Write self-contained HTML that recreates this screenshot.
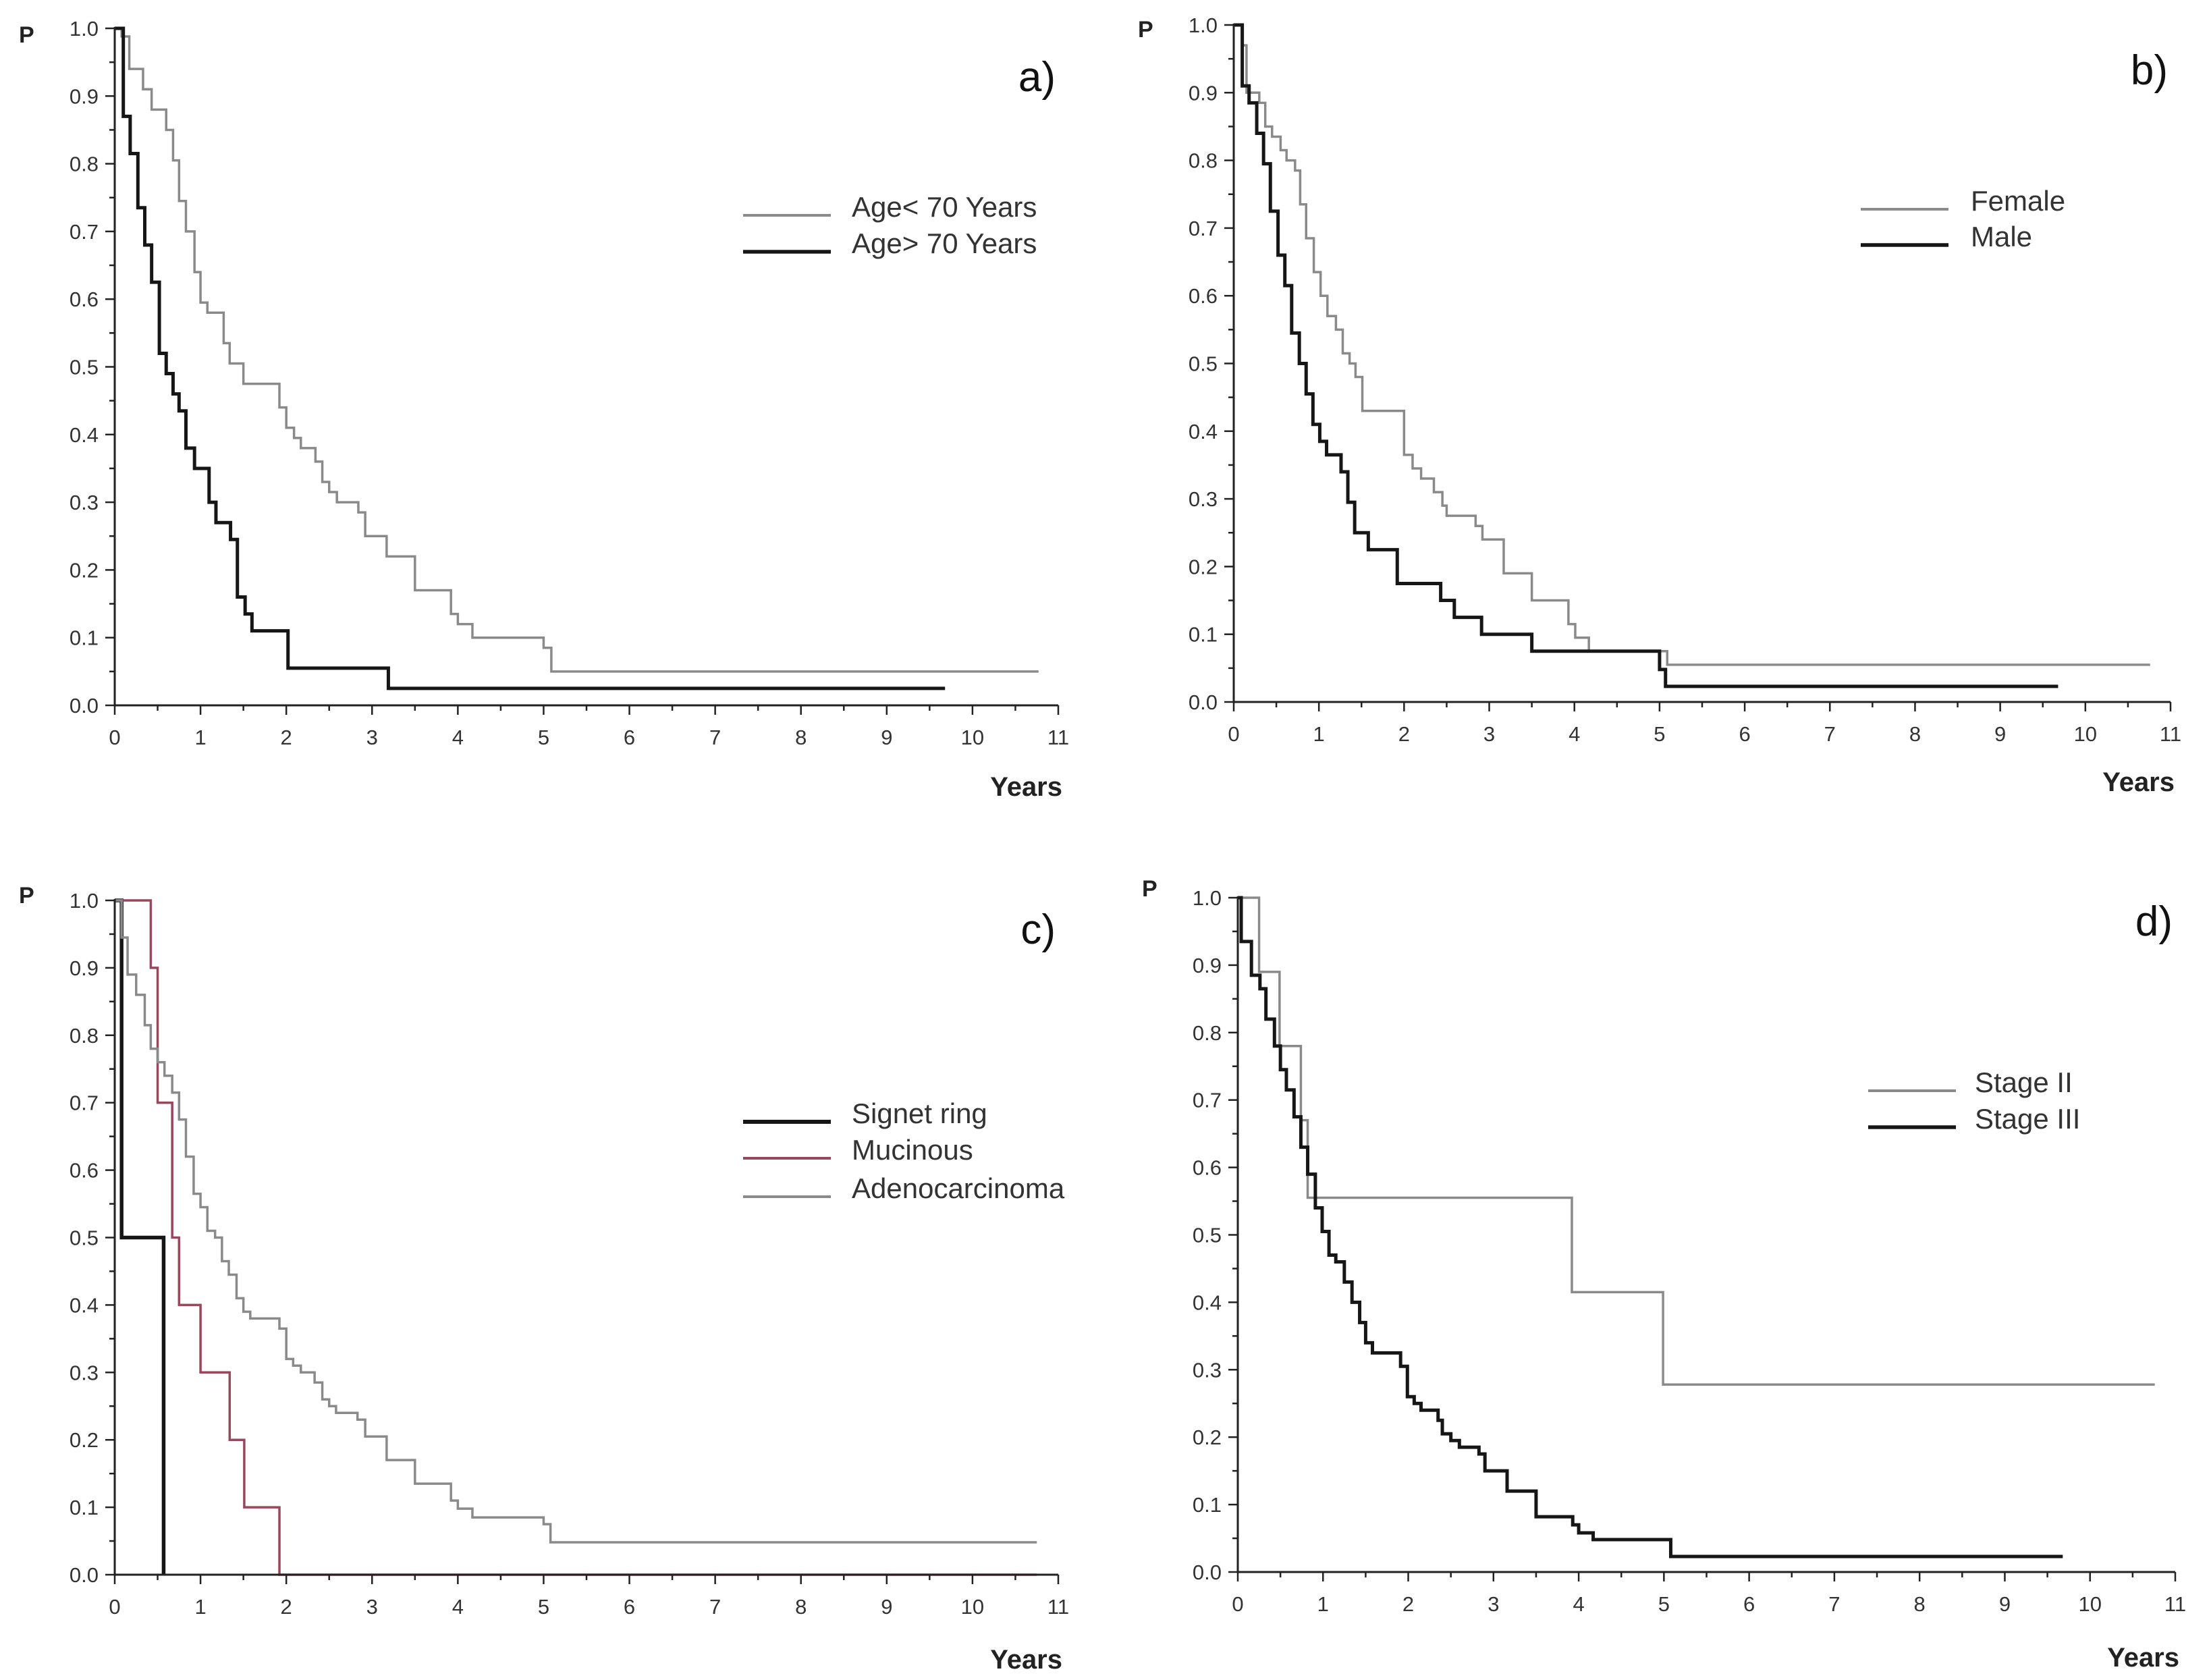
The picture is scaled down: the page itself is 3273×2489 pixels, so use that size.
<!DOCTYPE html>
<html><head><meta charset="utf-8"><style>
html,body{margin:0;padding:0;background:#fff;}
svg{display:block;font-family:"Liberation Sans",sans-serif;}
</style></head><body>
<svg id="chart" width="3273" height="2489" viewBox="0 0 3273 2489" xmlns="http://www.w3.org/2000/svg"></svg>
<script>
// ---- data (time in years, survival probability) ----
const aYoungT = [0,0.08,0.17,0.33,0.43,0.6,0.68,0.75,0.83,0.93,1.0,1.08,1.27,1.34,1.5,1.92,2.0,2.09,2.17,2.34,2.42,2.5,2.59,2.84,2.92,3.17,3.5,3.92,4.0,4.17,5.0,5.09,10.77];
const aYoungP = [1,0.988,0.94,0.91,0.88,0.85,0.805,0.745,0.70,0.64,0.595,0.58,0.535,0.505,0.475,0.44,0.41,0.395,0.38,0.36,0.33,0.315,0.30,0.285,0.25,0.22,0.17,0.135,0.12,0.10,0.085,0.05,0.05];
const aOldT = [0,0.1,0.18,0.27,0.35,0.43,0.52,0.6,0.68,0.75,0.83,0.93,1.1,1.18,1.35,1.43,1.52,1.6,2.02,3.19,9.68];
const aOldP = [1,0.87,0.815,0.735,0.68,0.625,0.52,0.49,0.46,0.435,0.38,0.35,0.30,0.27,0.245,0.16,0.135,0.11,0.055,0.025,0.025];

const bFemT = [0,0.1,0.15,0.3,0.37,0.45,0.55,0.62,0.72,0.78,0.85,0.94,1.02,1.1,1.2,1.28,1.36,1.43,1.51,2.0,2.1,2.2,2.35,2.45,2.5,2.84,2.92,3.17,3.5,3.93,4.01,4.17,5.09,10.76];
const bFemP = [1,0.97,0.90,0.885,0.85,0.835,0.815,0.80,0.785,0.735,0.685,0.635,0.60,0.57,0.55,0.515,0.50,0.48,0.43,0.365,0.345,0.33,0.31,0.29,0.275,0.26,0.24,0.19,0.15,0.115,0.095,0.075,0.055,0.055];
const bMaleT = [0,0.1,0.18,0.27,0.35,0.43,0.52,0.6,0.68,0.77,0.85,0.93,1.01,1.09,1.26,1.34,1.42,1.58,1.92,2.43,2.59,2.91,3.5,5.0,5.07,9.68];
const bMaleP = [1,0.91,0.885,0.84,0.795,0.725,0.66,0.615,0.545,0.50,0.455,0.41,0.385,0.365,0.34,0.295,0.25,0.225,0.175,0.15,0.125,0.10,0.075,0.048,0.023,0.023];

const cSigT = [0,0.08,0.57];
const cSigP = [1,0.5,0];
const cMucT = [0,0.42,0.5,0.67,0.75,1.0,1.34,1.51,1.92,10.75];
const cMucP = [1,0.9,0.7,0.5,0.4,0.3,0.2,0.1,0,0];
const cAdeT = [0,0.08,0.15,0.25,0.35,0.42,0.5,0.58,0.67,0.75,0.83,0.92,1.0,1.08,1.17,1.25,1.33,1.42,1.5,1.58,1.92,2.0,2.08,2.17,2.33,2.42,2.5,2.58,2.83,2.92,3.17,3.5,3.92,4.0,4.17,5.0,5.08,10.75];
const cAdeP = [1,0.945,0.89,0.86,0.815,0.78,0.76,0.74,0.715,0.675,0.62,0.565,0.545,0.51,0.50,0.465,0.445,0.41,0.39,0.38,0.365,0.32,0.31,0.30,0.285,0.26,0.25,0.24,0.23,0.205,0.17,0.135,0.11,0.098,0.085,0.075,0.048,0.048];

const dS2T = [0,0.25,0.49,0.74,0.82,3.92,4.99,10.76];
const dS2P = [1,0.89,0.78,0.67,0.555,0.415,0.278,0.278];
const dS3T = [0,0.04,0.16,0.26,0.33,0.43,0.5,0.57,0.66,0.74,0.82,0.91,0.99,1.07,1.15,1.25,1.34,1.43,1.5,1.58,1.91,1.99,2.07,2.15,2.35,2.4,2.5,2.6,2.83,2.9,3.16,3.5,3.93,4.0,4.17,5.08,9.68];
const dS3P = [1,0.935,0.885,0.865,0.82,0.78,0.745,0.715,0.675,0.63,0.59,0.54,0.505,0.47,0.46,0.43,0.40,0.37,0.34,0.325,0.305,0.26,0.25,0.24,0.225,0.205,0.195,0.185,0.175,0.15,0.12,0.082,0.07,0.058,0.048,0.023,0.023];

const xTicks = [0,1,2,3,4,5,6,7,8,9,10,11];
const yTicks = [0,0.1,0.2,0.3,0.4,0.5,0.6,0.7,0.8,0.9,1.0];
const yTickLabels = ["0.0","0.1","0.2","0.3","0.4","0.5","0.6","0.7","0.8","0.9","1.0"];

const GRAY = "#8a8a8a", BLACK = "#161616", RED = "#97485a";
const panels = [
  {id:"a", x0:170, x1:1568, y0:1045, y1:42, pY:50, letterY:113, yearsY:1165,
   legX:1101, legTextX:1262, legY:[319,373],
   series:[{n:"Age< 70 Years",t:aYoungT,p:aYoungP,c:GRAY,w:3.5},{n:"Age> 70 Years",t:aOldT,p:aOldP,c:BLACK,w:5}]},
  {id:"b", x0:1828, x1:3216, y0:1040, y1:37, pY:42, letterY:103, yearsY:1158,
   legX:2757, legTextX:2920, legY:[310,363],
   series:[{n:"Female",t:bFemT,p:bFemP,c:GRAY,w:3.5},{n:"Male",t:bMaleT,p:bMaleP,c:BLACK,w:5}]},
  {id:"c", x0:170, x1:1568, y0:2333, y1:1334, pY:1325, letterY:1376, yearsY:2458,
   legX:1101, legTextX:1262, legY:[1662,1716,1773],
   series:[{n:"Signet ring",t:cSigT,p:cSigP,c:BLACK,w:5.5},{n:"Mucinous",t:cMucT,p:cMucP,c:RED,w:3.5},{n:"Adenocarcinoma",t:cAdeT,p:cAdeP,c:GRAY,w:3.5}]},
  {id:"d", x0:1834, x1:3223, y0:2329, y1:1330, pY:1315, letterY:1364, yearsY:2455,
   legX:2768, legTextX:2926, legY:[1616,1670],
   series:[{n:"Stage II",t:dS2T,p:dS2P,c:GRAY,w:3.5},{n:"Stage III",t:dS3T,p:dS3P,c:BLACK,w:5}]}
];

const NS = "http://www.w3.org/2000/svg";
const svg = document.getElementById("chart");
function mk(tag, attrs, parent){
  const e = document.createElementNS(NS, tag);
  for (const k in attrs) e.setAttribute(k, attrs[k]);
  (parent||svg).appendChild(e);
  return e;
}

panels.forEach(pn => {
  const g = mk("g", {});
  
  
  const sx = t => pn.x0 + t * (pn.x1 - pn.x0) / 11;
  const sy = p => pn.y0 - p * (pn.y0 - pn.y1);

  pn.series.forEach((s, si) => {
    let d = "M" + sx(s.t[0]) + "," + sy(s.p[0]);
    for (let i = 1; i < s.t.length; i++) {
      d += " H" + sx(s.t[i]) + " V" + sy(s.p[i]);
    }
    const path = mk("path", {d:d, fill:"none", stroke:s.c, "stroke-width":s.w, "stroke-linejoin":"miter"}, g);
    
    
    const ly = pn.legY[si];
    const ll = mk("line", {x1:pn.legX, x2:pn.legX+130, y1:ly, y2:ly, stroke:s.c, "stroke-width":s.w+0.5}, g);
    
    
    const lt = mk("text", {x:pn.legTextX, y:ly+2, "font-size":42, fill:"#333"}, g);
    lt.textContent = s.n;
    
    
  });

  const ax = mk("path", {d:"M"+pn.x0+","+(pn.y1-2)+" V"+pn.y0+" H"+pn.x1, fill:"none", stroke:"#222", "stroke-width":3}, g);
  
  

  for (let i = 0; i <= 20; i++) {
    const y = sy(i*0.05);
    const len = (i%2===0) ? 14 : 8;
    const tk = mk("line", {x1:pn.x0-len, x2:pn.x0, y1:y, y2:y, stroke:"#222", "stroke-width":2.5}, g);
    
    
  }
  yTicks.forEach((v, i) => {
    const t = mk("text", {x:pn.x0-24, y:sy(v)+11, "font-size":31, fill:"#333", "text-anchor":"end"}, g);
    t.textContent = yTickLabels[i];
    
    
  });
  for (let i = 0; i <= 22; i++) {
    const x = sx(i*0.5);
    const len = (i%2===0) ? 14 : 8;
    const tk = mk("line", {x1:x, x2:x, y1:pn.y0, y2:pn.y0+len, stroke:"#222", "stroke-width":2.5}, g);
    
    
  }
  xTicks.forEach(v => {
    const t = mk("text", {x:sx(v), y:pn.y0+58, "font-size":31, fill:"#333", "text-anchor":"middle"}, g);
    t.textContent = String(v);
    
    
  });

  const P = mk("text", {x:pn.x0-142, y:pn.pY+13, "font-size":34, "font-weight":"bold", fill:"#222"}, g);
  P.textContent = "P";
  
  

  const Y = mk("text", {x:pn.x1+6, y:pn.yearsY+14, "font-size":40, "font-weight":"bold", fill:"#222", "text-anchor":"end"}, g);
  Y.textContent = "Years";
  
  

  const L = mk("text", {x:pn.x1-4, y:pn.letterY+22, "font-size":62, fill:"#111", "text-anchor":"end"}, g);
  L.textContent = pn.id + ")";
  
  
});
</script>
</body></html>
